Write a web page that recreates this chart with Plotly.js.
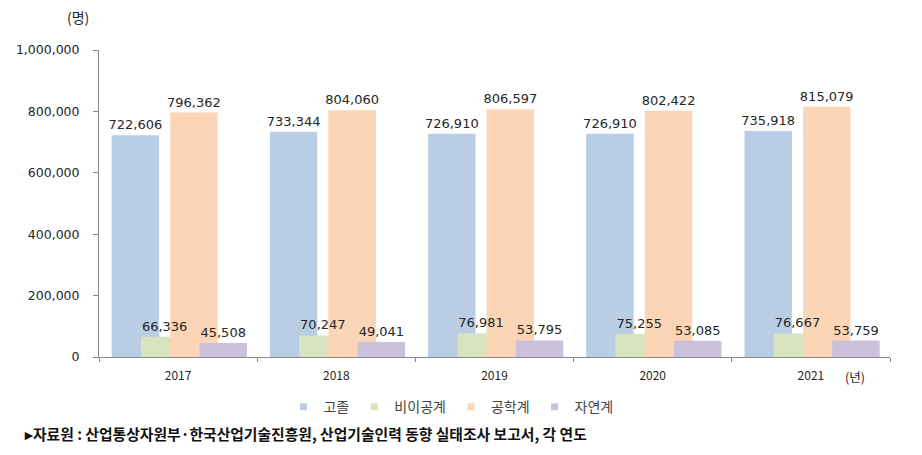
<!DOCTYPE html>
<html><head><meta charset="utf-8">
<script src="https://cdn.plot.ly/plotly-3.0.1.min.js"></script>
<style>html,body{margin:0;padding:0;background:#fff;}#chart{width:922px;height:455px;}</style>
</head><body><div id="chart"></div>
<script>
const years = ['2017','2018','2019','2020','2021'];
const seriesNames = ['고졸','비이공계','공학계','자연계'];
const highSchool = [722606, 733344, 726910, 726910, 735918];
const nonEng = [66336, 70247, 76981, 75255, 76667];
const engineering = [796362, 804060, 806597, 802422, 815079];
const science = [45508, 49041, 53795, 53085, 53759];
const yTicks = [0, 200000, 400000, 600000, 800000, 1000000];

const values = [highSchool, nonEng, engineering, science];
const colors = ['#b9cde5', '#d7e4bd', '#fbd5b5', '#ccc1da'];
const offsets = [-0.42, -0.235, -0.05, 0.135];
const kfont = 'Noto Sans CJK KR, Noto Sans, sans-serif';
const nfont = 'DejaVu Sans, sans-serif';

const traces = [];
// visible bars (no text)
values.forEach((v, i) => {
  traces.push({
    type: 'bar', x: years, y: v, name: seriesNames[i],
    offset: offsets[i], width: 0.30,
    marker: {color: colors[i], line: {width: 0}},
    showlegend: false, hoverinfo: 'skip'
  });
});
// transparent bars on top carrying the value labels, so labels are never hidden
values.forEach((v, i) => {
  traces.push({
    type: 'bar', x: years, y: v, name: seriesNames[i] + ' label',
    offset: offsets[i], width: 0.30,
    marker: {color: 'rgba(0,0,0,0)', line: {width: 0}},
    texttemplate: '%{y:,}', textposition: 'outside', cliponaxis: false,
    constraintext: 'none',
    textfont: {family: nfont, size: 13, color: '#262626'},
    showlegend: false, hoverinfo: 'skip'
  });
});
// legend entries
values.forEach((v, i) => {
  traces.push({
    type: 'scatter', mode: 'markers', x: [null], y: [null], name: seriesNames[i],
    marker: {symbol: 'square', size: 7, color: colors[i]}, showlegend: true
  });
});

const layout = {
  width: 922, height: 455,
  margin: {l: 99, r: 32, t: 50, b: 98},
  barmode: 'overlay',
  paper_bgcolor: '#fff', plot_bgcolor: '#fff',
  font: {family: kfont, size: 12, color: '#262626'},
  xaxis: {
    type: 'category', tickson: 'boundaries', ticks: 'outside', ticklen: 4,
    tickcolor: '#888', showline: true, linecolor: '#888', linewidth: 1,
    showgrid: false, tickfont: {family: kfont, size: 12, color: '#262626'},
    ticklabelstandoff: 8,
    range: [-0.5, 4.5]
  },
  yaxis: {
    range: [0, 1000000], tickvals: yTicks, tickformat: ',', ticks: 'outside', ticklen: 5,
    tickcolor: '#888', showline: true, linecolor: '#888', linewidth: 1,
    showgrid: false, zeroline: false, tickfont: {family: nfont, size: 12.5, color: '#262626'},
    ticklabelstandoff: 11
  },
  legend: {
    orientation: 'h', x: 0.445, xanchor: 'center', y: -0.163, yanchor: 'middle',
    font: {family: kfont, size: 14, color: '#444'}, itemwidth: 30, tracegroupgap: 0
  },
  annotations: [
    {text: '(명)', xref: 'paper', yref: 'paper', x: -0.027, y: 1.107, showarrow: false,
     xanchor: 'center', yanchor: 'middle', font: {family: kfont, size: 14, color: '#262626'}},
    {text: '(년)', xref: 'paper', yref: 'paper', x: 0.956, y: -0.065, showarrow: false,
     xanchor: 'center', yanchor: 'middle', font: {family: kfont, size: 12.5, color: '#262626'}},
    {text: '<b>▸자료원 : 산업통상자원부·한국산업기술진흥원, 산업기술인력 동향 실태조사 보고서, 각 연도</b>',
     xref: 'paper', yref: 'paper', x: -0.097, y: -0.248, showarrow: false,
     xanchor: 'left', yanchor: 'middle', font: {family: kfont, size: 14.8, color: '#111'}}
  ]
};
Plotly.newPlot('chart', traces, layout, {displayModeBar: false, staticPlot: true});
</script></body></html>
